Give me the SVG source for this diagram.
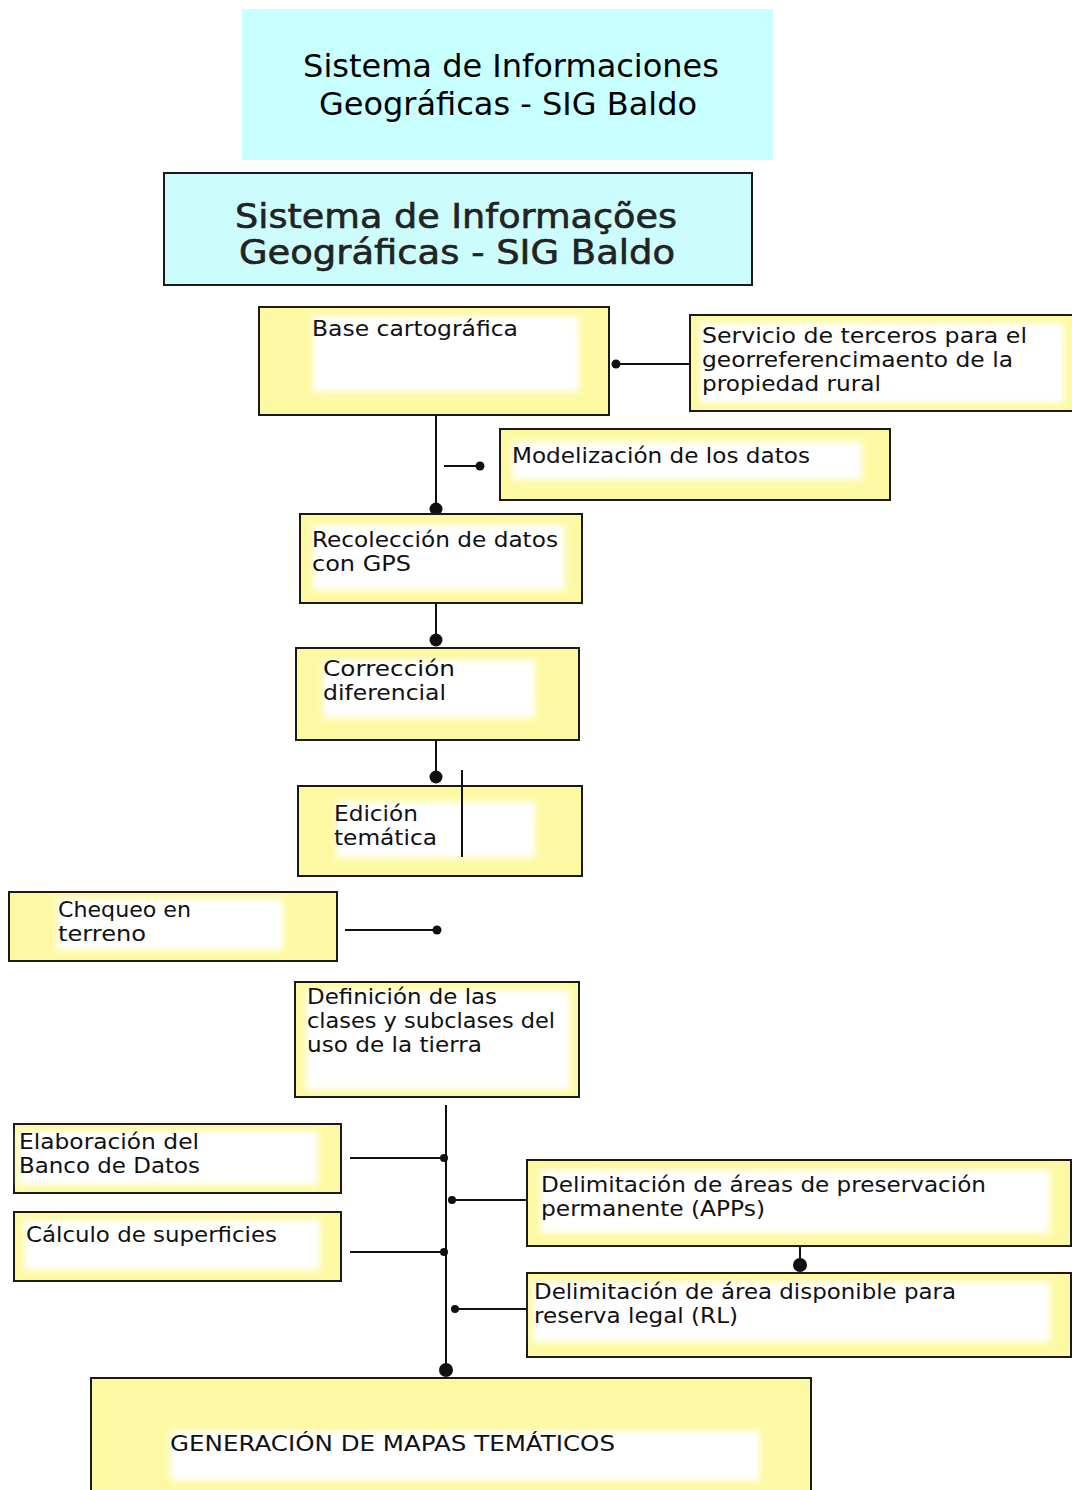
<svg xmlns="http://www.w3.org/2000/svg" width="1072" height="1490" viewBox="0 0 1072 1490">
<defs>
<filter id="soft" x="-10%" y="-20%" width="120%" height="140%"><feGaussianBlur stdDeviation="3"/></filter>
<style>
.box{fill:#fdf9a3;stroke:#1a1a1a;stroke-width:2}
.inner{fill:#ffffff;filter:url(#soft)}
.t{font-family:"DejaVu Sans","Liberation Sans",sans-serif;font-size:22px;fill:#111}
.ln{stroke:#111;stroke-width:2;fill:none}
.dot{fill:#111}
.title1{font-family:"DejaVu Sans","Liberation Sans",sans-serif;font-size:32px;fill:#000;text-anchor:middle}
.title2{font-family:"DejaVu Sans","Liberation Sans",sans-serif;font-size:33px;fill:#222;text-anchor:middle;stroke:#222;stroke-width:0.6}
</style>
</defs>
<rect width="1072" height="1490" fill="#ffffff"/>

<g id="title-es">
<rect x="242" y="9" width="531" height="151" fill="#c8ffff"/>
<text class="title1" x="511" y="77">Sistema de Informaciones</text>
<text class="title1" x="508" y="115">Geográficas - SIG Baldo</text>
</g>

<g id="title-pt">
<rect x="164" y="173" width="588" height="112" fill="#ccfcfc" stroke="#1a1a1a" stroke-width="2"/>
<text class="title2" x="456" y="228" textLength="442" lengthAdjust="spacingAndGlyphs">Sistema de Informações</text>
<text class="title2" x="457" y="264" textLength="436" lengthAdjust="spacingAndGlyphs">Geográficas - SIG Baldo</text>
</g>

<g id="connectors">
<line class="ln" x1="615" y1="364" x2="690" y2="364"/>
<circle class="dot" cx="616" cy="364" r="4.5"/>
<line class="ln" x1="436" y1="415" x2="436" y2="510"/>
<circle class="dot" cx="436" cy="509" r="6.5"/>
<line class="ln" x1="444" y1="466" x2="480" y2="466"/>
<circle class="dot" cx="480" cy="466" r="4.5"/>
<line class="ln" x1="436" y1="603" x2="436" y2="640"/>
<circle class="dot" cx="436" cy="640" r="6.5"/>
<line class="ln" x1="436" y1="740" x2="436" y2="776"/>
<circle class="dot" cx="436" cy="777" r="6.5"/>
<line class="ln" x1="345" y1="930" x2="437" y2="930"/>
<circle class="dot" cx="437" cy="930" r="4.5"/>
<line class="ln" x1="446" y1="1105" x2="446" y2="1370"/>
<circle class="dot" cx="446" cy="1370" r="7"/>
<line class="ln" x1="350" y1="1158" x2="444" y2="1158"/>
<circle class="dot" cx="444" cy="1158" r="4"/>
<line class="ln" x1="350" y1="1252" x2="444" y2="1252"/>
<circle class="dot" cx="444" cy="1252" r="4"/>
<line class="ln" x1="452" y1="1200" x2="527" y2="1200"/>
<circle class="dot" cx="452" cy="1200" r="4"/>
<line class="ln" x1="455" y1="1309" x2="527" y2="1309"/>
<circle class="dot" cx="455" cy="1309" r="4"/>
<line class="ln" x1="800" y1="1246" x2="800" y2="1265"/>
<circle class="dot" cx="800" cy="1265" r="7"/>
</g>

<g id="base-cartografica">
<rect class="box" x="259" y="307" width="350" height="108"/>
<rect class="inner" x="313" y="316" width="266" height="76"/>
<text class="t" x="312" y="336" textLength="206" lengthAdjust="spacingAndGlyphs">Base cartográfica</text>
</g>

<g id="servicio-terceros">
<rect class="box" x="690" y="315" width="390" height="96"/>
<rect class="inner" x="700" y="323" width="364" height="80"/>
<text class="t" x="702" y="343" textLength="325" lengthAdjust="spacingAndGlyphs">Servicio de terceros para el</text>
<text class="t" x="702" y="367" textLength="311" lengthAdjust="spacingAndGlyphs">georreferencimaento de la</text>
<text class="t" x="702" y="391" textLength="179" lengthAdjust="spacingAndGlyphs">propiedad rural</text>
</g>

<g id="modelizacion">
<rect class="box" x="500" y="429" width="390" height="71"/>
<rect class="inner" x="512" y="442" width="350" height="38"/>
<text class="t" x="512" y="463" textLength="298" lengthAdjust="spacingAndGlyphs">Modelización de los datos</text>
</g>

<g id="recoleccion">
<rect class="box" x="300" y="514" width="282" height="89"/>
<rect class="inner" x="313" y="525" width="252" height="65"/>
<text class="t" x="312" y="547" textLength="246" lengthAdjust="spacingAndGlyphs">Recolección de datos</text>
<text class="t" x="312" y="571" textLength="99" lengthAdjust="spacingAndGlyphs">con GPS</text>
</g>

<g id="correccion">
<rect class="box" x="296" y="648" width="283" height="92"/>
<rect class="inner" x="323" y="660" width="212" height="58"/>
<text class="t" x="323" y="676" textLength="132" lengthAdjust="spacingAndGlyphs">Corrección</text>
<text class="t" x="323" y="700" textLength="123" lengthAdjust="spacingAndGlyphs">diferencial</text>
</g>

<g id="edicion">
<rect class="box" x="298" y="786" width="284" height="90"/>
<rect class="inner" x="336" y="802" width="199" height="56"/>
<text class="t" x="334" y="821" textLength="84" lengthAdjust="spacingAndGlyphs">Edición</text>
<text class="t" x="334" y="845" textLength="103" lengthAdjust="spacingAndGlyphs">temática</text>
<line class="ln" x1="462" y1="770" x2="462" y2="857"/>
</g>

<g id="chequeo">
<rect class="box" x="9" y="892" width="328" height="69"/>
<rect class="inner" x="57" y="899" width="226" height="51"/>
<text class="t" x="58" y="917" textLength="133" lengthAdjust="spacingAndGlyphs">Chequeo en</text>
<text class="t" x="58" y="941" textLength="88" lengthAdjust="spacingAndGlyphs">terreno</text>
</g>

<g id="definicion">
<rect class="box" x="295" y="982" width="284" height="115"/>
<rect class="inner" x="306" y="990" width="264" height="100"/>
<text class="t" x="307" y="1004" textLength="190" lengthAdjust="spacingAndGlyphs">Definición de las</text>
<text class="t" x="307" y="1028" textLength="248" lengthAdjust="spacingAndGlyphs">clases y subclases del</text>
<text class="t" x="307" y="1052" textLength="175" lengthAdjust="spacingAndGlyphs">uso de la tierra</text>
</g>

<g id="elaboracion">
<rect class="box" x="14" y="1124" width="327" height="69"/>
<rect class="inner" x="18" y="1131" width="300" height="54"/>
<text class="t" x="19" y="1149" textLength="180" lengthAdjust="spacingAndGlyphs">Elaboración del</text>
<text class="t" x="19" y="1173" textLength="181" lengthAdjust="spacingAndGlyphs">Banco de Datos</text>
</g>

<g id="calculo">
<rect class="box" x="14" y="1212" width="327" height="69"/>
<rect class="inner" x="24" y="1220" width="296" height="50"/>
<text class="t" x="26" y="1242" textLength="251" lengthAdjust="spacingAndGlyphs">Cálculo de superficies</text>
</g>

<g id="delimitacion-apps">
<rect class="box" x="527" y="1160" width="544" height="86"/>
<rect class="inner" x="540" y="1170" width="510" height="63"/>
<text class="t" x="541" y="1192" textLength="445" lengthAdjust="spacingAndGlyphs">Delimitación de áreas de preservación</text>
<text class="t" x="541" y="1216" textLength="224" lengthAdjust="spacingAndGlyphs">permanente (APPs)</text>
</g>

<g id="delimitacion-rl">
<rect class="box" x="527" y="1273" width="544" height="84"/>
<rect class="inner" x="533" y="1282" width="517" height="60"/>
<text class="t" x="534" y="1299" textLength="422" lengthAdjust="spacingAndGlyphs">Delimitación de área disponible para</text>
<text class="t" x="534" y="1323" textLength="204" lengthAdjust="spacingAndGlyphs">reserva legal (RL)</text>
</g>

<g id="generacion">
<rect class="box" x="91" y="1378" width="720" height="120"/>
<rect class="inner" x="170" y="1431" width="590" height="50"/>
<text class="t" x="170" y="1451" textLength="445" lengthAdjust="spacingAndGlyphs">GENERACIÓN DE MAPAS TEMÁTICOS</text>
</g>
</svg>
